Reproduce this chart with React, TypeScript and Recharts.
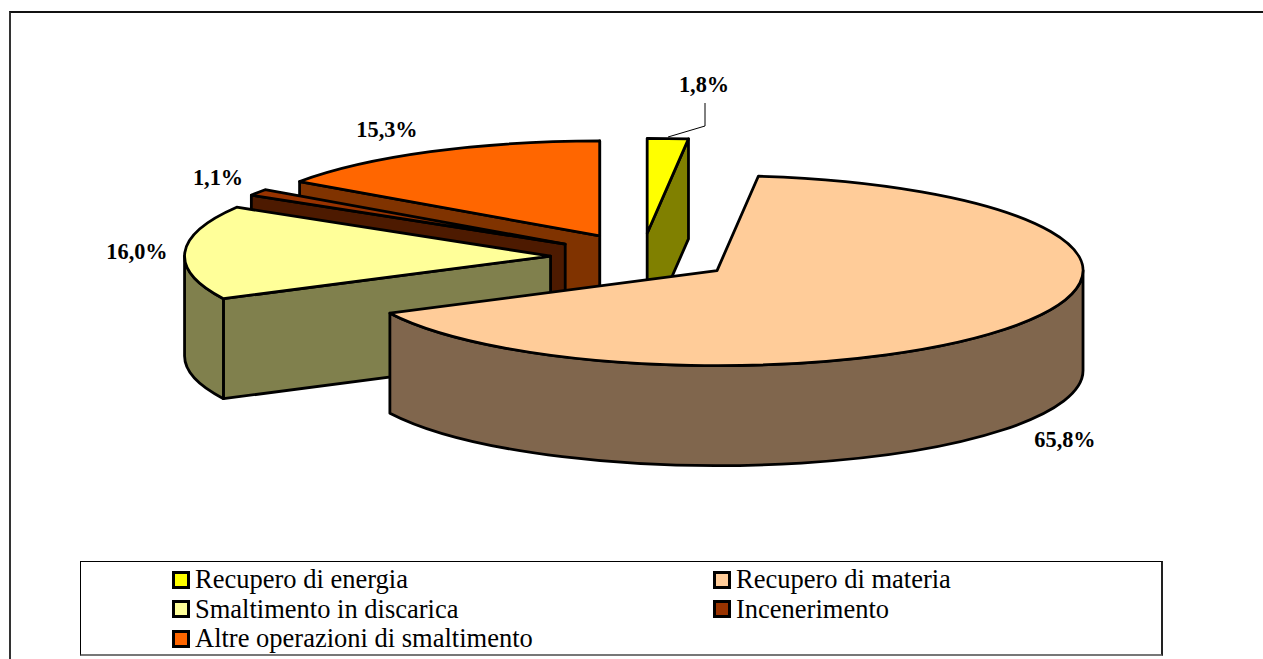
import React from 'react';
import { PieChart, Pie, Legend } from 'recharts';

const CATEGORIES = ['Recupero di energia', 'Recupero di materia', 'Smaltimento in discarica', 'Incenerimento', 'Altre operazioni di smaltimento'];
const SHARES = [1.8, 65.8, 16.0, 1.1, 15.3];
const COLORS = ['#FFFF00', '#FFCC99', '#FFFF99', '#993300', '#FF6600'];

// painter's order, back to front; the big slice has to go last
const DRAW_ORDER = [0, 4, 3, 2, 1];

const CX = 642;
const CY = 257;
const RX = 366;
const RY = 95;
const DEPTH = 100;
const EXPLODE = 0.25;
const FONT = '"Liberation Serif", "Times New Roman", serif';

const LABEL_POS: Record<string, [number, number]> = {
  'Recupero di energia': [704, 92],
  'Recupero di materia': [1065, 447],
  'Smaltimento in discarica': [137, 259],
  'Incenerimento': [218, 185],
  'Altre operazioni di smaltimento': [387, 137],
};

const tableData = DRAW_ORDER.map(i => ({ name: CATEGORIES[i], value: SHARES[i], fill: COLORS[i] }));
const startAngle = 90 - SHARES[0] * 3.6;

const rad = (d: number) => (d * Math.PI) / 180;

const darken = (hex: string) => {
  const n = parseInt(hex.slice(1), 16);
  const half = (v: number) => Math.round(v / 2);
  return `rgb(${half((n >> 16) & 255)},${half((n >> 8) & 255)},${half(n & 255)})`;
};

const Slice3D = (props: any) => {
  const { cx, cy, outerRadius, startAngle: a0, endAngle: a1, fill } = props;
  const ratio = RY / RX;
  const mid = (a0 + a1) / 2;
  const ax = cx + EXPLODE * outerRadius * Math.cos(rad(mid));
  const ay = cy - EXPLODE * outerRadius * ratio * Math.sin(rad(mid));
  const pt = (a: number, drop = 0) => ({
    x: ax + outerRadius * Math.cos(rad(a)),
    y: ay - outerRadius * ratio * Math.sin(rad(a)) + drop,
  });
  const ry = outerRadius * ratio;
  const side = darken(fill);
  const stroke = { stroke: '#000', strokeWidth: 2.8, strokeLinejoin: 'round' as const };

  const p0 = pt(a0);
  const p1 = pt(a1);
  const large = a1 - a0 > 180 ? 1 : 0;
  const top = `M${ax},${ay} L${p0.x},${p0.y} A${outerRadius},${ry} 0 ${large} 0 ${p1.x},${p1.y} Z`;

  const wall = (a: number) => {
    const p = pt(a);
    return `M${ax},${ay} L${p.x},${p.y} L${p.x},${p.y + DEPTH} L${ax},${ay + DEPTH} Z`;
  };

  // rim only shows on the front half of the ellipse
  const from = Math.max(a0, 180);
  const to = Math.min(a1, 360);
  let rim = null;
  if (to > from) {
    const r0 = pt(from);
    const r1 = pt(to);
    const big = to - from > 180 ? 1 : 0;
    rim = `M${r0.x},${r0.y} A${outerRadius},${ry} 0 ${big} 0 ${r1.x},${r1.y} L${r1.x},${r1.y + DEPTH} A${outerRadius},${ry} 0 ${big} 1 ${r0.x},${r0.y + DEPTH} Z`;
  }

  return (
    <g>
      {Math.cos(rad(a0)) > 0 && <path d={wall(a0)} fill={side} {...stroke} />}
      {Math.cos(rad(a1)) < 0 && <path d={wall(a1)} fill={side} {...stroke} />}
      {rim && <path d={rim} fill={side} {...stroke} />}
      <path d={top} fill={fill} {...stroke} />
    </g>
  );
};

const renderLabel = (props: any) => {
  const { name, value } = props;
  const [x, y] = LABEL_POS[name];
  const text = value.toFixed(1).replace('.', ',') + '%';
  return (
    <g key={name}>
      {name === CATEGORIES[0] && <polyline points="668,137 705,126 705,103" fill="none" stroke="#000" strokeWidth={1} />}
      <text x={x} y={y} textAnchor="middle" fontFamily={FONT} fontWeight="bold" fontSize={22.3} fill="#000">
        {text}
      </text>
    </g>
  );
};

const LegendBox = () => (
  <div
    style={{
      width: 1083,
      height: 95,
      boxSizing: 'border-box',
      border: '1px solid #000',
      borderBottom: '2px solid #777',
      borderRight: '2px solid #222',
      background: '#fff',
      position: 'relative',
      fontFamily: FONT,
      fontSize: 26.5,
      color: '#000',
    }}
  >
    {CATEGORIES.map((name, i) => (
      <div
        key={name}
        style={{
          position: 'absolute',
          left: i % 2 === 0 ? 91 : 632,
          top: 3 + Math.floor(i / 2) * 29.5,
          display: 'flex',
          alignItems: 'center',
          height: 29,
          whiteSpace: 'nowrap',
        }}
      >
        <span
          style={{
            display: 'inline-block',
            width: 18,
            height: 18,
            boxSizing: 'border-box',
            border: '3px solid #000',
            background: COLORS[i],
            marginRight: 5,
          }}
        />
        {name}
      </div>
    ))}
  </div>
);

export default function App() {
  return (
    <div style={{ position: 'absolute', left: 0, top: 0, width: 1263, height: 659, overflow: 'hidden', background: '#fff' }}>
      <div style={{ position: 'absolute', left: 9, top: 11, width: 1254, height: 648, borderTop: '2px solid #111', borderLeft: '2px solid #333', boxSizing: 'border-box' }} />
      <PieChart width={1263} height={659} style={{ position: 'absolute', left: 0, top: 0 }} margin={{ top: 0, right: 0, bottom: 0, left: 0 }}>
        <Pie
          data={tableData}
          dataKey="value"
          nameKey="name"
          cx={CX}
          cy={CY}
          innerRadius={0}
          outerRadius={RX}
          startAngle={startAngle}
          endAngle={startAngle + 360}
          shape={Slice3D}
          label={renderLabel}
          labelLine={false}
          isAnimationActive={false}
          rootTabIndex={-1}
        />
        <Legend content={<LegendBox />} layout="vertical" wrapperStyle={{ position: 'absolute', left: 80, top: 561, width: 1083, height: 95 }} />
      </PieChart>
    </div>
  );
}
